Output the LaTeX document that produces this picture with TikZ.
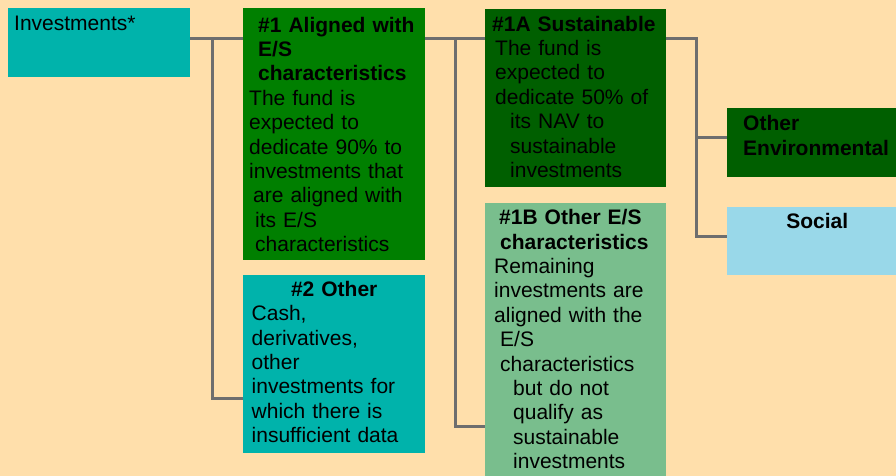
\documentclass[tikz,border=0pt]{standalone}
\usepackage{fontspec}
\setmainfont{Liberation Sans}
\usepackage{tikz}

\definecolor{peach}{HTML}{FFDFAB}
\definecolor{tealbox}{HTML}{00B3AB}
\definecolor{greenone}{HTML}{007F00}
\definecolor{greendark}{HTML}{005F00}
\definecolor{greenlight}{HTML}{79BE8D}
\definecolor{socblue}{HTML}{99D8E9}
\definecolor{linkgray}{HTML}{6E6E6E}

\begin{document}
\begin{tikzpicture}[
  x=1pt, y=-1pt,
  box/.style={anchor=north west, inner ysep=0pt, align=left,
    font=\fontsize{21}{24.4}\selectfont},
  link/.style={draw=linkgray, line width=3pt}
]
\useasboundingbox (0,0) rectangle (896,476);
\fill[peach] (0,0) rectangle (896,476);
\clip (0,0) rectangle (896,476);

% left column
\node[box, fill=tealbox, inner xsep=6pt, text width=170pt,
  text height=22pt, text depth=47pt] (inv) at (8,8) {Investments*};

% middle column
\node[box, fill=greenone, inner xsep=6pt, text width=170pt,
  text height=24pt, text depth=228pt] (n1) at (243,8)
  {\hspace*{9pt}\textbf{\#1 Aligned with}\\
   \hspace*{9pt}\textbf{E/S}\\
   \hspace*{9pt}\textbf{characteristics}\\
   The fund is\\
   expected to\\
   dedicate 90\% to\\
   investments that\\
   \hspace*{4pt}are aligned with\\
   \hspace*{6pt}its E/S\\
   \hspace*{6pt}characteristics};
\node[box, fill=tealbox, inner xsep=8.5pt, text width=165pt,
  text height=21pt, text depth=157pt] (n2) at (243,275)
  {\makebox[\linewidth]{\textbf{\#2 Other}}\\
   Cash,\\
   derivatives,\\
   other\\
   investments for\\
   which there is\\
   insufficient data};

% right column
\node[box, fill=greendark, inner xsep=7pt, text width=167pt,
  text height=22pt, text depth=156pt] (n1a) at (485,9)
  {\textbf{\#1A Sustainable}\\
   \hspace*{3pt}The fund is\\
   \hspace*{3pt}expected to\\
   \hspace*{3pt}dedicate 50\% of\\
   \hspace*{18pt}its NAV to\\
   \hspace*{18pt}sustainable\\
   \hspace*{18pt}investments};
\node[box, fill=greenlight, inner xsep=9pt, text width=163pt,
  text height=21.5pt, text depth=259pt] (n1b) at (485,203)
  {\hspace*{5pt}\textbf{\#1B Other E/S}\\
   \hspace*{6pt}\textbf{characteristics}\\
   Remaining\\
   investments are\\
   aligned with the\\
   \hspace*{6pt}E/S\\
   \hspace*{6pt}characteristics\\
   \hspace*{19pt}but do not\\
   \hspace*{19pt}qualify as\\
   \hspace*{19pt}sustainable\\
   \hspace*{19pt}investments};

% far right
\node[box, fill=greendark, inner xsep=16pt, text width=150pt,
  text height=22.5pt, text depth=46.5pt] (env) at (727,108)
  {\textbf{Other}\\ \textbf{Environmental}};
\node[box, fill=socblue, inner xsep=16pt, text width=148pt, align=center,
  text height=21.5pt, text depth=46.5pt] (soc) at (727,207)
  {\textbf{Social}};

% connectors
\coordinate (j1) at (212,39);
\coordinate (j2) at (455,39);
\coordinate (j3) at (696,39);
\draw[link] (inv.east |- j1) -- (n1.west |- j1);
\draw[link] (j1) |- ([yshift=-34.5pt]n2.west);
\draw[link] (n1.east |- j2) -- (n1a.west |- j2);
\draw[link] (j2) |- ([yshift=-83pt]n1b.west);
\draw[link] (n1a.east |- j3) -- (j3) |- ([yshift=5.5pt]env.west);
\draw[link] (j3) |- ([yshift=5pt]soc.west);
\end{tikzpicture}
\end{document}
